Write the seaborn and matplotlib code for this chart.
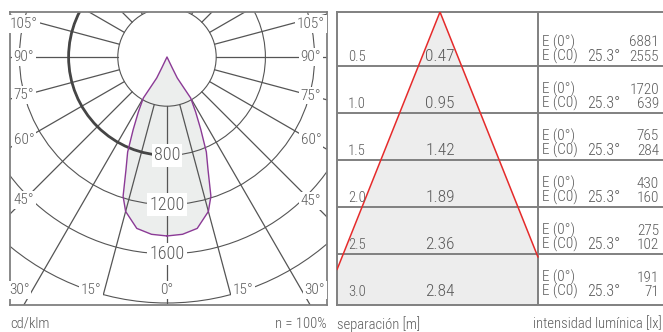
import numpy as np
import matplotlib
matplotlib.use("Agg")
import matplotlib.pyplot as plt
import seaborn as sns
from matplotlib.patches import Circle, Arc

# curva fotometrica (cd/klm), medio lado: desde 0 grados hasta la punta
gamma_deg = [0, 5, 10, 15, 17.5, 20, 22.5, 25, 27.5, 30, 28.7, 26.1, 25.7, 0]
intensity = [1455, 1447, 1415, 1300, 1187, 975, 836, 650, 505, 385, 288, 190, 99, 0]

ring_values = [400, 800, 1200, 1600, 2000]
ring_labels = [800, 1200, 1600]
angle_ticks = [0, 15, 30, 45, 60, 75, 90, 105]

# tabla de iluminancias
distance = [0.5, 1.0, 1.5, 2.0, 2.5, 3.0]
diameter = [0.47, 0.95, 1.42, 1.89, 2.36, 2.84]
e_0 = [6881, 1720, 765, 430, 275, 191]
e_c0 = [2555, 639, 284, 160, 102, 71]
half_angle = 25.3

sns.set_theme(style="white")
plt.rcParams["font.family"] = ["Roboto Condensed", "DejaVu Sans"]
plt.rcParams["font.weight"] = "light"
plt.rcParams["text.color"] = "#5a5a5a"

line_c = "#555555"
frame_c = "#808080"
fill_c = "#eceeed"
purple = "#8b3a96"
red = "#e52b2b"

W, H = 663, 332
fig = plt.figure(figsize=(W / 100, H / 100), dpi=100)


def px_axes(x0, y0, x1, y1):
    return fig.add_axes([x0 / W, 1 - y1 / H, (x1 - x0) / W, (y1 - y0) / H])


# ---------------- diagrama polar ----------------
ax = px_axes(10, 12, 327, 305)
k = 0.123          # px por cd/klm
cx, cy = 167, 57   # centro en px


def X(px):
    return (px - cx) / k


def Y(py):
    return -(py - cy) / k


g = np.radians(gamma_deg)
I = np.array(intensity, dtype=float)
xl = -I * np.sin(g)
yl = -I * np.cos(g)
xs = np.concatenate([xl, -xl[::-1]])
ys = np.concatenate([yl, yl[::-1]])

ax.fill(xs, ys, color=fill_c, lw=0, zorder=1)

for r in ring_values:
    ax.add_patch(Circle((0, 0), r, fill=False, ec=line_c, lw=0.8, zorder=2))
ax.add_patch(Arc((0, 0), 1600, 1600, theta1=90, theta2=270, color="#454545", lw=2.0, zorder=2.5))

for a in range(-165, 180, 15):
    r_end = 2000 if abs(a) <= 15 else 3500
    s, c = np.sin(np.radians(a)), np.cos(np.radians(a))
    ax.plot([-400 * s, -r_end * s], [-400 * c, -r_end * c], color=line_c, lw=0.9, zorder=2)

sns.lineplot(x=xs, y=ys, sort=False, estimator=None, color=purple, lw=1.0, ax=ax, zorder=3)

box = dict(boxstyle="square,pad=0.12", fc="white", ec="none")
for v in ring_labels:
    ax.text(0, -v, str(v), ha="center", va="center", fontsize=13, bbox=box, zorder=5)

for a in angle_ticks:
    sides = [1] if a == 0 else [-1, 1]
    for side in sides:
        s, c = np.sin(np.radians(a)), np.cos(np.radians(a))
        ha = "center"
        if a >= 45:
            x_px = 24 if side < 0 else 311
            t = abs(x_px - cx) / s
            y_px = max(cy + t * c, 24)
        else:
            y_px = 290
            t = (y_px - cy) / c
            x_px = cx + side * t * s
            if a > 0:
                x_px += side * 3
                ha = "right" if side < 0 else "left"
        ax.text(X(x_px), Y(y_px), f"{a}°", ha=ha, va="center", fontsize=11, bbox=box, zorder=5)

ax.set_xlim(X(10), X(327))
ax.set_ylim(Y(305), Y(12))
ax.set_xticks([])
ax.set_yticks([])
ax.set_xlabel("")
ax.set_ylabel("")
for sp in ax.spines.values():
    sp.set_color(frame_c)
    sp.set_linewidth(1.3)

# ---------------- tabla / cono ----------------
ax2 = px_axes(337, 12, 663, 305)
sy = 94.0
sx = 79.5
x0p, d0p = 440, 19


def X2(px):
    return (px - x0p) / sx


def Y2(py):
    return (py - d0p) / sy


xmin, xmax = X2(337), X2(663)
d_top, d_bot = Y2(12), Y2(305)
x_div = X2(538)
ax2.set_xlim(xmin, xmax)
ax2.set_ylim(d_bot, d_top)

tn = np.tan(np.radians(half_angle))
dd = np.linspace(d_top, d_bot, 300)
half = tn * (dd - d_top)
ax2.fill_betweenx(dd, np.maximum(-half, xmin), np.minimum(half, x_div), color="#ededed", lw=0, zorder=1)

d_left = d_top - xmin / tn
d_right = d_top + x_div / tn
sns.lineplot(x=[0, xmin], y=[d_top, d_left], sort=False, estimator=None, color=red, lw=1.1, ax=ax2, zorder=3)
sns.lineplot(x=[0, x_div], y=[d_top, d_right], sort=False, estimator=None, color=red, lw=1.1, ax=ax2, zorder=3)

for d in distance[:-1]:
    ax2.axhline(d, color=frame_c, lw=1.4, zorder=2)
ax2.axvline(x_div, color=frame_c, lw=1.4, zorder=2)

for d, dia, a0, ac in zip(distance, diameter, e_0, e_c0):
    ax2.text(X2(348), d - 0.1, f"{d:.1f}", ha="left", va="center", fontsize=10.5, zorder=5)
    ax2.text(0, d - 0.1, f"{dia:.2f}", ha="center", va="center", fontsize=12.5, zorder=5)
    ax2.text(X2(542), d - 0.25, "E (0°)", ha="left", va="center", fontsize=11, zorder=5)
    ax2.text(X2(542), d - 0.1, "E (C0)", ha="left", va="center", fontsize=11, zorder=5)
    ax2.text(X2(620), d - 0.1, f"{half_angle}°", ha="right", va="center", fontsize=11.5, zorder=5)
    ax2.text(X2(659), d - 0.25, str(a0), ha="right", va="center", fontsize=11, zorder=5)
    ax2.text(X2(659), d - 0.1, str(ac), ha="right", va="center", fontsize=11, zorder=5)

ax2.set_xticks([])
ax2.set_yticks([])
ax2.set_xlabel("")
ax2.set_ylabel("")
for name, sp in ax2.spines.items():
    sp.set_color(frame_c)
    sp.set_linewidth(1.4)
ax2.spines["right"].set_visible(False)

# ---------------- textos inferiores ----------------
yt = 1 - 324 / H
fig.text(10 / W, yt, "cd/klm", ha="left", va="center", fontsize=10.5)
fig.text(327 / W, yt, "n = 100%", ha="right", va="center", fontsize=10.5)
fig.text(337 / W, yt, "separación [m]", ha="left", va="center", fontsize=10.5)
fig.text(662 / W, yt, "intensidad lumínica [lx]", ha="right", va="center", fontsize=10.5)

fig.savefig("out.png", dpi=100)
